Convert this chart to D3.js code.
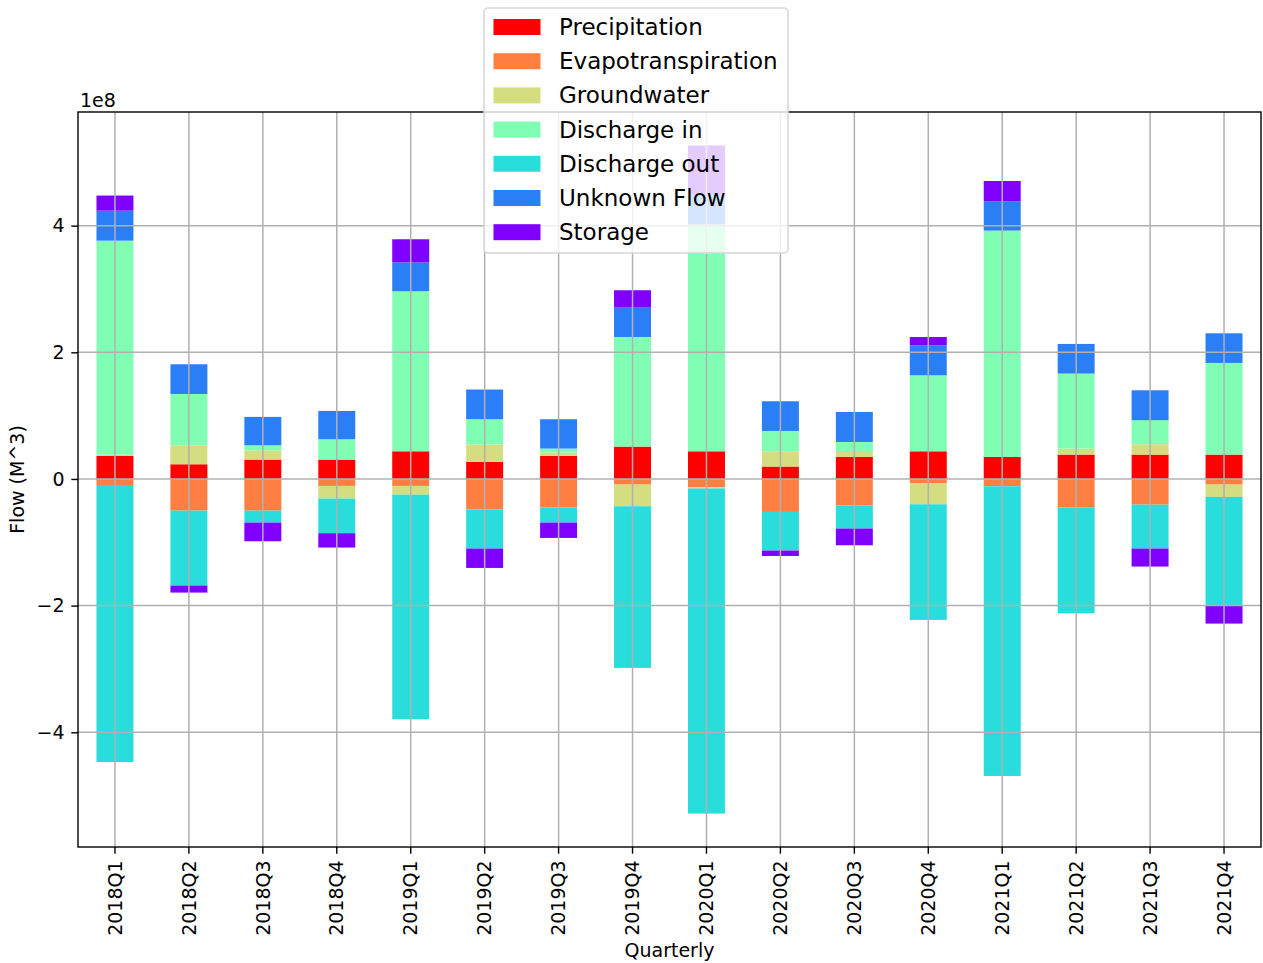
<!DOCTYPE html>
<html>
<head>
<meta charset="utf-8">
<script src="https://cdn.jsdelivr.net/npm/d3@7"></script>
<style>
  body { margin: 0; background: #fff; }
  svg text { font-family: "DejaVu Sans", sans-serif; fill: #000; }
  .grid line { stroke: #b0b0b0; stroke-width: 1.5; }
  .axis path { display: none; }
  .axis line { stroke: #000; stroke-width: 1.4; }
</style>
</head>
<body>
<svg id="chart"></svg>
<script>

// quarterly water balance, values in units of 1e8 M^3
const quarters = ['2018Q1','2018Q2','2018Q3','2018Q4','2019Q1','2019Q2','2019Q3','2019Q4',
                  '2020Q1','2020Q2','2020Q3','2020Q4','2021Q1','2021Q2','2021Q3','2021Q4'];

const seriesNames = ['Precipitation','Evapotranspiration','Groundwater','Discharge in','Discharge out','Unknown Flow','Storage'];
const seriesColors = ['#ff0000','#ff7f42','#d4dd80','#80ffb4','#2adddd','#2b7ff6','#7f00ff'];

const precipitation      = [0.363, 0.232, 0.306, 0.306, 0.437, 0.269, 0.363, 0.511, 0.437, 0.196, 0.347, 0.437, 0.347, 0.385, 0.385, 0.385];
const evapotranspiration = [-0.11, -0.50, -0.50, -0.11, -0.11, -0.483, -0.452, -0.089, -0.13, -0.521, -0.42, -0.07, -0.115, -0.447, -0.405, -0.089];
const groundwater        = [0.02, 0.30, 0.147, -0.20, -0.137, 0.274, 0.057, -0.342, -0.02, 0.241, 0.079, -0.33, 0.0, 0.095, 0.163, -0.195];
const dischargeIn        = [3.38, 0.81, 0.079, 0.321, 2.527, 0.40, 0.06, 1.731, 3.583, 0.321, 0.158, 1.20, 3.575, 1.184, 0.379, 1.447];
const dischargeOut       = [-4.36, -1.183, -0.189, -0.547, -3.547, -0.616, -0.237, -2.553, -5.134, -0.61, -0.363, -1.826, -4.575, -1.674, -0.694, -1.721];
const unknownFlow        = [0.474, 0.469, 0.448, 0.447, 0.456, 0.469, 0.463, 0.474, 0.47, 0.469, 0.474, 0.474, 0.463, 0.468, 0.473, 0.468];
const storage            = [0.238, -0.111, -0.295, -0.226, 0.365, -0.306, -0.242, 0.264, 0.777, -0.085, -0.264, 0.131, 0.32, 0.0, -0.284, -0.279];

const yTicks = [-4, -2, 0, 2, 4];

class StackedBar {

  constructor(_config, _data) {
    this.config = {
      parentElement: _config.parentElement,
      containerWidth: _config.containerWidth || 1263,
      containerHeight: _config.containerHeight || 963,
      margin: { top: 112, bottom: 116, right: 2, left: 78 }
    }
    this.data = _data;
    this.initVis();
  }

  initVis() {
    let vis = this;

    vis.width = vis.config.containerWidth - vis.config.margin.left - vis.config.margin.right;
    vis.height = vis.config.containerHeight - vis.config.margin.top - vis.config.margin.bottom;

    vis.svg = d3.select(vis.config.parentElement)
        .attr('width', vis.config.containerWidth)
        .attr('height', vis.config.containerHeight);

    vis.chart = vis.svg.append('g')
        .attr('transform', `translate(${vis.config.margin.left},${vis.config.margin.top})`);

    // bar width is half a category step, like pandas
    vis.xScale = d3.scaleBand()
        .domain(quarters)
        .range([0, vis.width])
        .paddingInner(0.5)
        .paddingOuter(0.25);

    vis.yScale = d3.scaleLinear()
        .range([vis.height, 0]);

    vis.updateVis();
  }

  updateVis() {
    let vis = this;

    vis.stack = d3.stack()
        .keys(seriesNames)
        .order(d3.stackOrderNone)
        .offset(d3.stackOffsetDiverging);

    vis.series = vis.stack(vis.data);

    // matplotlib autoscale: data extent plus 5% margin
    let lo = d3.min(vis.series, s => d3.min(s, d => d[0]));
    let hi = d3.max(vis.series, s => d3.max(s, d => d[1]));
    let pad = (hi - lo) * 0.05;
    vis.yScale.domain([lo - pad, hi + pad]);

    vis.renderVis();
  }

  renderVis() {
    let vis = this;
    const tick = 6.7;

    // bars
    vis.chart.selectAll('.layer')
      .data(vis.series)
      .join('g')
        .attr('class', 'layer')
        .attr('fill', (d, i) => seriesColors[i])
      .selectAll('rect')
      .data(d => d)
      .join('rect')
        .attr('x', d => vis.xScale(d.data.quarter))
        .attr('width', vis.xScale.bandwidth())
        .attr('y', d => vis.yScale(Math.max(d[0], d[1])))
        .attr('height', d => Math.abs(vis.yScale(d[0]) - vis.yScale(d[1])));

    // grid on top of the bars
    let grid = vis.chart.append('g').attr('class', 'grid');
    grid.selectAll('.gx')
      .data(quarters)
      .join('line')
        .attr('x1', d => vis.xScale(d) + vis.xScale.bandwidth() / 2)
        .attr('x2', d => vis.xScale(d) + vis.xScale.bandwidth() / 2)
        .attr('y1', 0)
        .attr('y2', vis.height);
    grid.selectAll('.gy')
      .data(yTicks)
      .join('line')
        .attr('x1', 0)
        .attr('x2', vis.width)
        .attr('y1', d => vis.yScale(d))
        .attr('y2', d => vis.yScale(d));

    // axes
    vis.yAxis = d3.axisLeft(vis.yScale)
        .tickValues(yTicks)
        .tickFormat(d3.format('d'))
        .tickSize(tick)
        .tickPadding(tick);

    vis.chart.append('g')
        .attr('class', 'axis y-axis')
        .call(vis.yAxis)
        .call(g => g.selectAll('text').style('font-size', '19px').style('font-family', '"DejaVu Sans"'));

    vis.xAxis = d3.axisBottom(vis.xScale)
        .tickSize(tick)
        .tickPadding(tick);

    vis.chart.append('g')
        .attr('class', 'axis x-axis')
        .attr('transform', `translate(0,${vis.height})`)
        .call(vis.xAxis)
        .call(g => g.selectAll('text')
            .style('font-size', '19px')
            .style('font-family', '"DejaVu Sans"')
            .attr('text-anchor', 'end')
            .attr('dy', '0.35em')
            .attr('transform', `translate(0,${tick * 2}) rotate(-90)`)
            .attr('x', 0)
            .attr('y', 0));

    // spines
    vis.chart.append('rect')
        .attr('width', vis.width)
        .attr('height', vis.height)
        .attr('fill', 'none')
        .attr('stroke', '#000')
        .attr('stroke-width', 1.4);

    // labels
    vis.chart.append('text')
        .attr('x', 2)
        .attr('y', -5)
        .style('font-size', '19px')
        .text('1e8');

    vis.chart.append('text')
        .attr('x', vis.width / 2)
        .attr('y', vis.height + 110)
        .style('text-anchor', 'middle')
        .style('font-size', '19px')
        .text('Quarterly');

    vis.svg.append('text')
        .attr('transform', `translate(24,${vis.config.margin.top + vis.height / 2}) rotate(-90)`)
        .style('text-anchor', 'middle')
        .style('font-size', '19px')
        .text('Flow (M^3)');

    // legend
    let legend = vis.svg.append('g').attr('transform', 'translate(484,8)');
    legend.append('rect')
        .attr('width', 304)
        .attr('height', 245)
        .attr('rx', 4)
        .attr('fill', '#fff')
        .attr('fill-opacity', 0.8)
        .attr('stroke', '#d6d6d6')
        .attr('stroke-width', 1.5);

    let items = legend.selectAll('.item')
      .data(seriesNames)
      .join('g')
        .attr('class', 'item')
        .attr('transform', (d, i) => `translate(0,${19 + i * 34.2})`);

    items.append('rect')
        .attr('x', 9.5)
        .attr('y', -8)
        .attr('width', 47)
        .attr('height', 16)
        .attr('fill', (d, i) => seriesColors[i]);

    items.append('text')
        .attr('x', 75)
        .attr('dy', '0.35em')
        .style('font-size', '23px')
        .text(d => d);
  }
}

const rows = quarters.map((q, i) => ({
  quarter: q,
  'Precipitation': precipitation[i],
  'Evapotranspiration': evapotranspiration[i],
  'Groundwater': groundwater[i],
  'Discharge in': dischargeIn[i],
  'Discharge out': dischargeOut[i],
  'Unknown Flow': unknownFlow[i],
  'Storage': storage[i]
}));

let chart = new StackedBar({ parentElement: '#chart', containerWidth: 1263, containerHeight: 963 }, rows);

</script>
</body>
</html>
